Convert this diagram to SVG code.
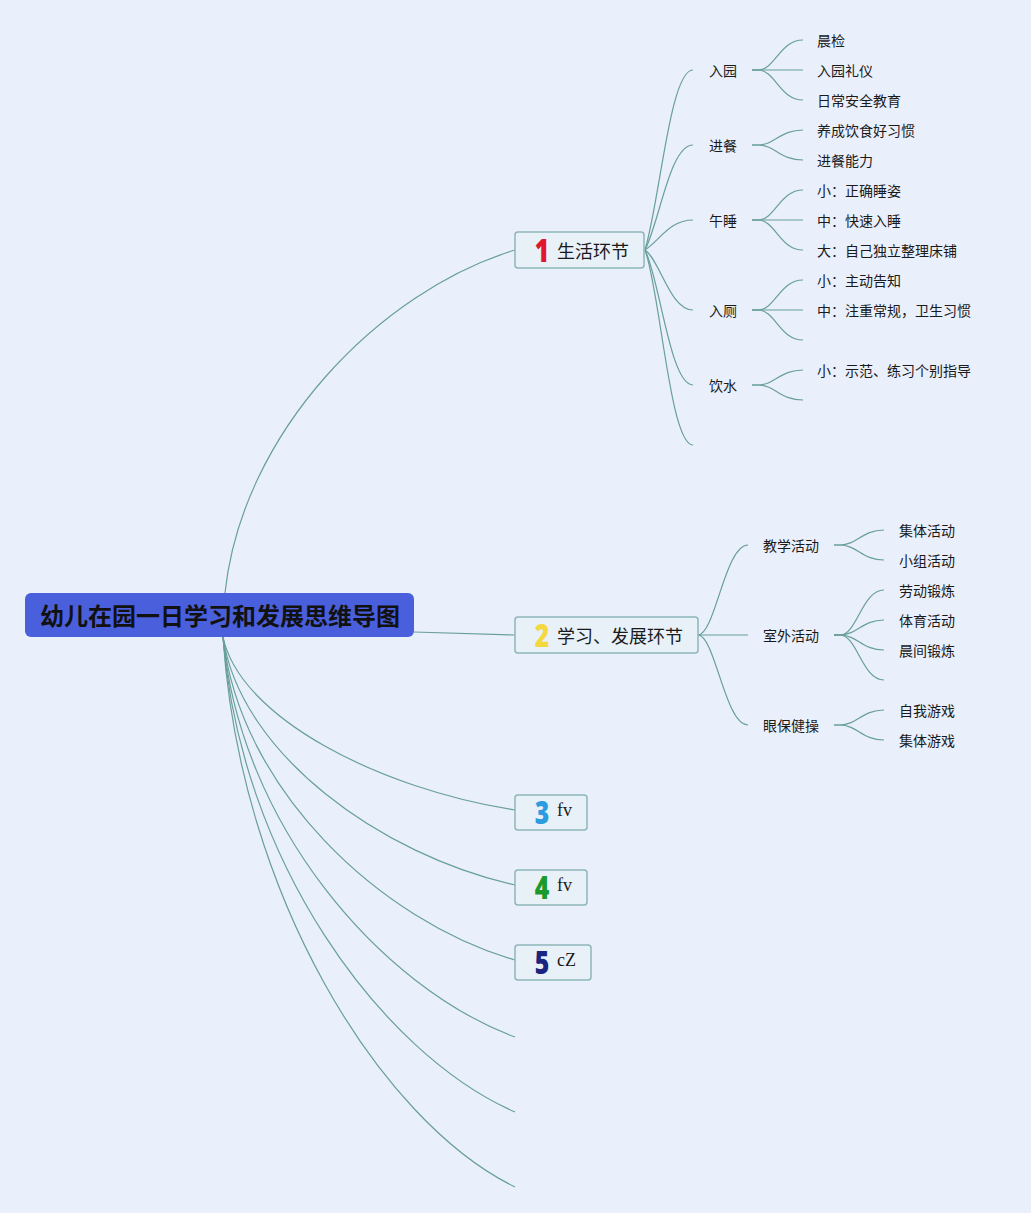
<svg xmlns="http://www.w3.org/2000/svg" width="1031" height="1213" viewBox="0 0 1031 1213">
<style>
.c{fill:none;stroke:#689f9b;stroke-width:1.2}
.t{font-family:"Noto Sans CJK SC","Noto Sans",sans-serif;font-size:14px;fill:#1a1a1a}
.m{font-family:"Noto Sans CJK SC","Noto Sans",sans-serif;font-size:18px;fill:#1a1a1a}
.box{fill:#e8f0f8;stroke:#8db6b9;stroke-width:1.5}
.num{font-family:"Noto Sans","DejaVu Sans",sans-serif;font-weight:900;font-size:31px;text-anchor:middle}
.s{font-family:"Liberation Serif",serif;font-size:18px;fill:#1a1a1a}
</style>
<rect width="1031" height="1213" fill="#e9effb"/>
<g id="connectors">
<path class="c" d="M225,593 C242,432 380,291 515,250"/>
<path class="c" d="M414,632 L515,635"/>
<path class="c" d="M223,637 C240,718 380,789 515,810"/>
<path class="c" d="M223,637 C240,753 380,855 515,885"/>
<path class="c" d="M223,637 C240,789 380,921 515,960"/>
<path class="c" d="M223,637 C240,824 380,987 515,1037"/>
<path class="c" d="M223,637 C240,859 380,1053 515,1112"/>
<path class="c" d="M223,637 C240,895 380,1121 515,1187"/>
<path class="c" d="M645,250 C660,200 670,70 693,70"/>
<path class="c" d="M645,250 C660,220 670,145 693,145"/>
<path class="c" d="M645,250 C660,240 670,220 693,220"/>
<path class="c" d="M645,250 C660,260 670,310 693,310"/>
<path class="c" d="M645,250 C660,280 670,385 693,385"/>
<path class="c" d="M645,250 C660,290 670,445 693,445"/>
<path class="c" d="M752,70 L758,70 C775,70 780,40 803,40"/>
<path class="c" d="M752,70 L803,70"/>
<path class="c" d="M752,70 L758,70 C775,70 780,100 803,100"/>
<path class="c" d="M752,145 L758,145 C775,145 780,130 803,130"/>
<path class="c" d="M752,145 L758,145 C775,145 780,160 803,160"/>
<path class="c" d="M752,220 L758,220 C775,220 780,190 803,190"/>
<path class="c" d="M752,220 L803,220"/>
<path class="c" d="M752,220 L758,220 C775,220 780,250 803,250"/>
<path class="c" d="M752,310 L758,310 C775,310 780,280 803,280"/>
<path class="c" d="M752,310 L803,310"/>
<path class="c" d="M752,310 L758,310 C775,310 780,340 803,340"/>
<path class="c" d="M752,385 L758,385 C775,385 780,370 803,370"/>
<path class="c" d="M752,385 L758,385 C775,385 780,400 803,400"/>
<path class="c" d="M698,635 C715,635 725,545 748,545"/>
<path class="c" d="M698,635 L748,635"/>
<path class="c" d="M698,635 C715,635 725,725 748,725"/>
<path class="c" d="M834,545 L840,545 C857,545 862,530 884,530"/>
<path class="c" d="M834,545 L840,545 C857,545 862,560 884,560"/>
<path class="c" d="M834,635 L840,635 C857,635 862,590 884,590"/>
<path class="c" d="M834,635 L840,635 C857,635 862,620 884,620"/>
<path class="c" d="M834,635 L840,635 C857,635 862,650 884,650"/>
<path class="c" d="M834,635 L840,635 C857,635 862,680 884,680"/>
<path class="c" d="M834,725 L840,725 C857,725 862,710 884,710"/>
<path class="c" d="M834,725 L840,725 C857,725 862,740 884,740"/>
</g>
<g id="root">
<rect x="25" y="593" width="389" height="44" rx="6" fill="#4a5fdc"/>
<text x="220" y="625" text-anchor="middle" font-family="Noto Sans CJK SC,sans-serif" font-weight="bold" font-size="24" fill="#111">幼儿在园一日学习和发展思维导图</text>
</g>
<g id="n1">
<rect class="box" x="515" y="232" width="129" height="36" rx="3"/>
<text class="num" x="542" y="262" fill="#e0182d" transform="translate(542,262) scale(0.8,1) translate(-542,-262)">1</text>
<text class="m" x="557" y="258">生活环节</text>
</g>
<g id="n2">
<rect class="box" x="515" y="617" width="183" height="36" rx="3"/>
<text class="num" x="542" y="647" fill="#f4d83f" transform="translate(542,647) scale(0.8,1) translate(-542,-647)">2</text>
<text class="m" x="557" y="643">学习、发展环节</text>
</g>
<g id="n3">
<rect class="box" x="515" y="795" width="72" height="35" rx="3"/>
<text class="num" x="542" y="824" fill="#2c9be0" transform="translate(542,824) scale(0.8,1) translate(-542,-824)">3</text>
<text class="s" x="557" y="816">fv</text>
</g>
<g id="n4">
<rect class="box" x="515" y="870" width="72" height="35" rx="3"/>
<text class="num" x="542" y="899" fill="#1a9a2a" transform="translate(542,899) scale(0.8,1) translate(-542,-899)">4</text>
<text class="s" x="557" y="891">fv</text>
</g>
<g id="n5">
<rect class="box" x="515" y="945" width="76" height="35" rx="3"/>
<text class="num" x="542" y="974" fill="#1a2580" transform="translate(542,974) scale(0.8,1) translate(-542,-974)">5</text>
<text class="s" x="557" y="966">cZ</text>
</g>
<g id="n1-children">
<text class="t" x="709" y="76">入园</text>
<text class="t" x="709" y="151">进餐</text>
<text class="t" x="709" y="226">午睡</text>
<text class="t" x="709" y="316">入厕</text>
<text class="t" x="709" y="391">饮水</text>
<text class="t" x="817" y="46">晨检</text>
<text class="t" x="817" y="76">入园礼仪</text>
<text class="t" x="817" y="106">日常安全教育</text>
<text class="t" x="817" y="136">养成饮食好习惯</text>
<text class="t" x="817" y="166">进餐能力</text>
<text class="t" x="817" y="196">小：正确睡姿</text>
<text class="t" x="817" y="226">中：快速入睡</text>
<text class="t" x="817" y="256">大：自己独立整理床铺</text>
<text class="t" x="817" y="286">小：主动告知</text>
<text class="t" x="817" y="316">中：注重常规，卫生习惯</text>
<text class="t" x="817" y="376">小：示范、练习个别指导</text>
</g>
<g id="n2-children">
<text class="t" x="763" y="551">教学活动</text>
<text class="t" x="763" y="641">室外活动</text>
<text class="t" x="763" y="731">眼保健操</text>
<text class="t" x="899" y="536">集体活动</text>
<text class="t" x="899" y="566">小组活动</text>
<text class="t" x="899" y="596">劳动锻炼</text>
<text class="t" x="899" y="626">体育活动</text>
<text class="t" x="899" y="656">晨间锻炼</text>
<text class="t" x="899" y="716">自我游戏</text>
<text class="t" x="899" y="746">集体游戏</text>
</g>
</svg>
